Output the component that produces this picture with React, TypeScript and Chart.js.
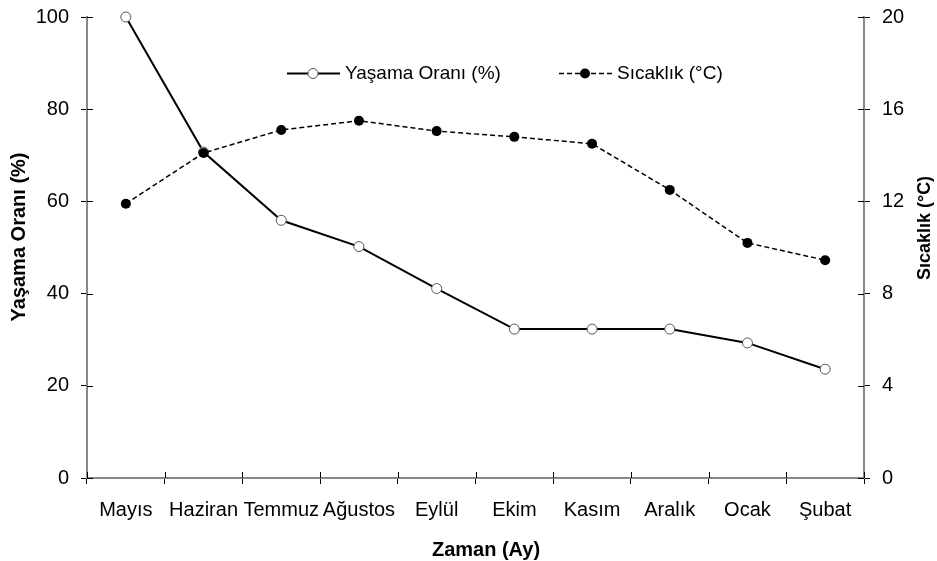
import React, { useEffect, useRef } from "react";
import { Chart, registerables } from "chart.js";

Chart.register(...registerables);

const months = ["Mayıs", "Haziran", "Temmuz", "Ağustos", "Eylül", "Ekim", "Kasım", "Aralık", "Ocak", "Şubat"];
const survival = [100, 70.7, 55.9, 50.2, 41.1, 32.3, 32.3, 32.3, 29.3, 23.6];
const temperature = [11.9, 14.1, 15.1, 15.5, 15.05, 14.8, 14.5, 12.5, 10.2, 9.45];
const survivalTicks = [0, 20, 40, 60, 80, 100];
const temperatureTicks = [0, 4, 8, 12, 16, 20];
const survivalLabel = "Yaşama Oranı (%)";
const temperatureLabel = "Sıcaklık (°C)";
const xTitle = "Zaman (Ay)";

const FONT = '"Liberation Sans", Arial, sans-serif';

const decorPlugin = {
  id: "decor",
  afterDraw(chart: any) {
    const ctx = chart.ctx as CanvasRenderingContext2D;
    const x = chart.scales.x;
    const y = chart.scales.y;
    const y1 = chart.scales.y1;
    const area = chart.chartArea;
    ctx.save();
    // inner tick halves (ticks cross the axis lines)
    ctx.strokeStyle = "#000";
    ctx.lineWidth = 1;
    ctx.beginPath();
    for (let i = 0; i <= months.length; i++) {
      const px = Math.round(x.getPixelForValue(i - 0.5)) + 0.5;
      ctx.moveTo(px, area.bottom);
      ctx.lineTo(px, area.bottom - 6);
    }
    survivalTicks.forEach((v) => {
      const py = Math.round(y.getPixelForValue(v)) + 0.5;
      ctx.moveTo(area.left, py);
      ctx.lineTo(area.left + 6, py);
    });
    temperatureTicks.forEach((v) => {
      const py = Math.round(y1.getPixelForValue(v)) + 0.5;
      ctx.moveTo(area.right, py);
      ctx.lineTo(area.right - 6, py);
    });
    ctx.stroke();

    // axis titles
    ctx.fillStyle = "#000";
    ctx.textAlign = "center";
    ctx.textBaseline = "middle";
    ctx.font = `bold 20px ${FONT}`;
    ctx.fillText(xTitle, 486, 550);
    ctx.save();
    ctx.translate(19, 237);
    ctx.rotate(-Math.PI / 2);
    ctx.fillText(survivalLabel, 0, 0);
    ctx.restore();
    ctx.save();
    ctx.font = `bold 18px ${FONT}`;
    ctx.translate(925, 228);
    ctx.rotate(-Math.PI / 2);
    ctx.fillText(temperatureLabel, 0, 0);
    ctx.restore();

    // legend
    const ly = 73.5;
    ctx.font = `19px ${FONT}`;
    ctx.textAlign = "left";
    ctx.strokeStyle = "#000";
    ctx.lineWidth = 2;
    ctx.setLineDash([]);
    ctx.beginPath();
    ctx.moveTo(287, ly);
    ctx.lineTo(340, ly);
    ctx.stroke();
    ctx.beginPath();
    ctx.arc(313, ly, 5, 0, Math.PI * 2);
    ctx.fillStyle = "#fff";
    ctx.fill();
    ctx.lineWidth = 1;
    ctx.strokeStyle = "#555";
    ctx.stroke();
    ctx.fillStyle = "#000";
    ctx.fillText(survivalLabel, 345, ly);

    ctx.strokeStyle = "#000";
    ctx.lineWidth = 1.5;
    ctx.setLineDash([5, 3]);
    ctx.beginPath();
    ctx.moveTo(559, ly);
    ctx.lineTo(612, ly);
    ctx.stroke();
    ctx.setLineDash([]);
    ctx.beginPath();
    ctx.arc(585, ly, 5, 0, Math.PI * 2);
    ctx.fillStyle = "#000";
    ctx.fill();
    ctx.fillText(temperatureLabel, 617, ly);
    ctx.restore();
  },
};

export default function App() {
  const ref = useRef<HTMLCanvasElement | null>(null);
  useEffect(() => {
    if (!ref.current) return;
    const chart = new Chart(ref.current, {
      type: "line",
      data: {
        labels: months,
        datasets: [
          {
            label: temperatureLabel,
            data: temperature,
            yAxisID: "y1",
            borderColor: "#000",
            borderWidth: 1.5,
            borderDash: [5, 3],
            pointRadius: 5,
            pointBackgroundColor: "#000",
            pointBorderColor: "#000",
            pointBorderWidth: 0,
            tension: 0,
            clip: false,
            order: 0,
          },
          {
            label: survivalLabel,
            data: survival,
            yAxisID: "y",
            borderColor: "#000",
            borderWidth: 2,
            pointRadius: 5,
            pointBackgroundColor: "#fff",
            pointBorderColor: "#555",
            pointBorderWidth: 1,
            tension: 0,
            clip: false,
            order: 1,
          },
        ],
      },
      options: {
        animation: false,
        responsive: true,
        maintainAspectRatio: false,
        layout: { padding: { top: 17, left: 0, right: 0, bottom: 0 } },
        plugins: { legend: { display: false }, tooltip: { enabled: false } },
        scales: {
          x: {
            offset: true,
            grid: { offset: true, drawOnChartArea: false, tickLength: 6, tickColor: "#000", lineWidth: 1 },
            border: { color: "#888", width: 2 },
            ticks: { autoSkip: false, maxRotation: 0, color: "#000", font: { family: FONT, size: 20 }, padding: 14 },
            afterFit: (s: any) => { s.height = 83; s.paddingLeft = 0; s.paddingRight = 0; },
          },
          y: {
            position: "left",
            min: survivalTicks[0],
            max: survivalTicks[survivalTicks.length - 1],
            grid: { drawOnChartArea: false, tickLength: 6, tickColor: "#000" },
            border: { color: "#888", width: 2 },
            ticks: { stepSize: 20, color: "#000", font: { family: FONT, size: 20 }, padding: 12 },
            afterFit: (s: any) => { s.width = 87; s.paddingTop = 0; s.paddingBottom = 0; },
          },
          y1: {
            position: "right",
            min: temperatureTicks[0],
            max: temperatureTicks[temperatureTicks.length - 1],
            grid: { drawOnChartArea: false, tickLength: 6, tickColor: "#000" },
            border: { color: "#888", width: 2 },
            ticks: { stepSize: 4, color: "#000", font: { family: FONT, size: 20 }, padding: 12 },
            afterFit: (s: any) => { s.width = 73; s.paddingTop = 0; s.paddingBottom = 0; },
          },
        },
      },
      plugins: [decorPlugin],
    });
    return () => chart.destroy();
  }, []);
  return (
    <div style={{ position: "fixed", left: 0, top: 0, width: 937, height: 561, background: "#fff" }}>
      <canvas ref={ref} />
    </div>
  );
}
